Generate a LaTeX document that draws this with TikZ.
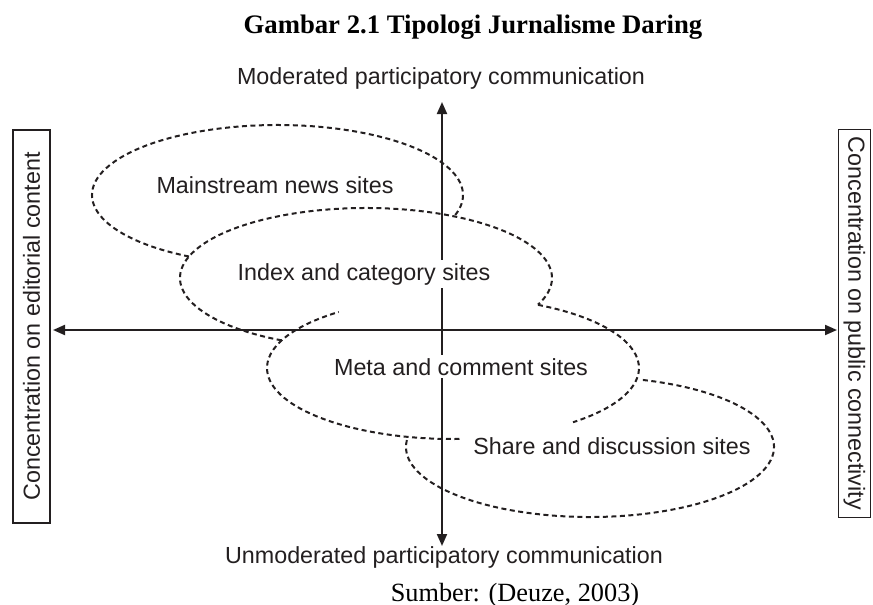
\documentclass[tikz,border=0pt]{standalone}
\usepackage{fontspec}
\setmainfont{Liberation Serif}
\newfontfamily\diagfont{Liberation Sans}
\usetikzlibrary{arrows.meta}
\definecolor{ink}{HTML}{231F20}
\begin{document}
\begin{tikzpicture}[x=1pt,y=1pt,yscale=-1,
  axis/.style={draw=ink, line width=2pt,
    {Triangle[length=12pt,width=10pt]}-{Triangle[length=12pt,width=10pt]}},
  zone/.style={draw=ink, line width=2pt, dash pattern=on 5pt off 3.5pt},
  lbl/.style={font=\diagfont\fontsize{23.3}{27}\selectfont, text=ink, inner sep=0pt},
  sitelabel/.style={lbl, fill=white, inner xsep=1pt, inner ysep=3pt, anchor=base},
  sidebox/.style={lbl, draw=ink, line width=1.3pt}
]
\useasboundingbox (0,0) rectangle (873,605);

% title and source line
\node[font=\fontsize{26.7}{30}\selectfont\bfseries, anchor=base] (title) at (473,33)
  {Gambar 2.1 Tipologi Jurnalisme Daring};
\node[font=\fontsize{26.3}{30}\selectfont, anchor=base] (source) at (515,601)
  {Sumber: (Deuze, 2003)};

% ellipse centres of the four site types
\coordinate (cM) at (277.5,195);
\coordinate (cI) at (366,278);
\coordinate (cC) at (453,368);
\coordinate (cS) at (590,447);

% overlapping dashed regions
\draw[zone] (cM) ++(118.5:185.5 and 70)
  arc[start angle=118.5, end angle=377, x radius=185.5, y radius=70];
\draw[zone] (cI) ++(117:186 and 70)
  arc[start angle=117, end angle=382.4, x radius=186, y radius=70];
\draw[zone] (cC) ++(88:186 and 71)
  arc[start angle=88, end angle=232.1, x radius=186, y radius=71];
\draw[zone] (cC) ++(297.2:186 and 71)
  arc[start angle=297.2, end angle=409.8, x radius=186, y radius=71];
\draw[zone] (cS) ++(-73.3:184 and 70)
  arc[start angle=-73.3, end angle=188, x radius=184, y radius=70];

% axes
\coordinate (W) at (53,330);
\coordinate (E) at (837,330);
\coordinate (N) at (442,102);
\coordinate (S) at (442,546);
\draw[axis] (W) -- (E);
\draw[axis] (S) -- (N);

% axis labels
\node[lbl, anchor=base] (top) at (441,84) {Moderated participatory communication};
\node[lbl, anchor=base] (bottom) at (444,563) {Unmoderated participatory communication};
\node[sidebox, rotate=90, minimum width=393pt, minimum height=37pt] (left) at (31.5,326.5)
  {Concentration on editorial content};
\node[sidebox, rotate=-90, minimum width=388pt, minimum height=32pt] (right) at (854.5,323.5)
  {Concentration on public connectivity};

% site labels
\node[sitelabel] (mainstream) at (275,193) {Mainstream news sites};
\node[sitelabel] (index) at (364,280) {Index and category sites};
\node[sitelabel] (meta) at (461,375) {Meta and comment sites};
\node[sitelabel] (share) at (612,454) {Share and discussion sites};
\end{tikzpicture}
\end{document}
